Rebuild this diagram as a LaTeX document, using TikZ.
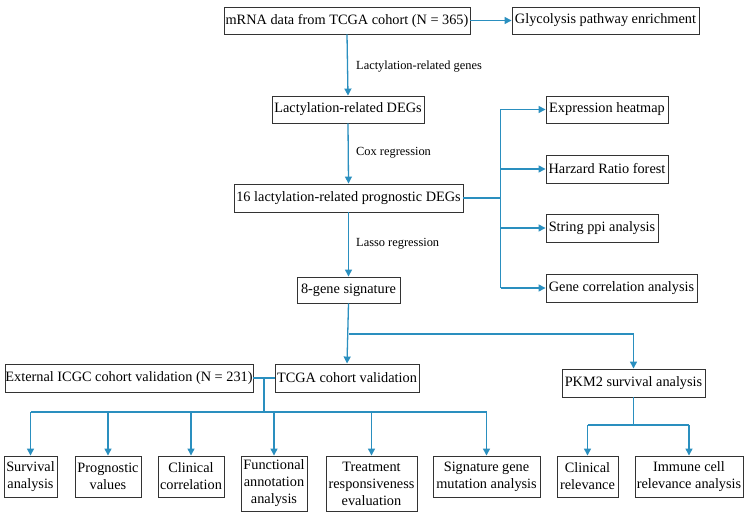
\documentclass[tikz,border=0pt]{standalone}
\usepackage{fontspec}
\setmainfont{Liberation Serif}
\usetikzlibrary{arrows.meta}
\definecolor{flow}{HTML}{2A8FBF}
\definecolor{edge}{HTML}{333333}
\tikzset{
  box/.style={draw=edge, line width=0.9pt, inner sep=0pt, align=center,
    font=\fontsize{14.3}{17}\selectfont, minimum height=27pt},
  conn/.style={draw=flow, line width=1.3pt},
  arr/.style={conn, -{Triangle[length=7pt,width=7pt]}},
  lbl/.style={font=\fontsize{12.4}{14}\selectfont, anchor=west, inner sep=0pt}
}
\begin{document}
\begin{tikzpicture}[x=1pt,y=-1pt]
\useasboundingbox (0,0) rectangle (749,521);
\node[box, minimum width=246pt] (mrna) at (347,20.5) {mRNA data from TCGA cohort (N = 365)};
\node[box, minimum width=187pt] (glyc) at (605.5,20.5) {Glycolysis pathway enrichment};
\node[box, minimum width=152pt] (ldegs) at (348,109.5) {Lactylation-related DEGs};
\node[box, minimum width=229pt, minimum height=28pt] (p16) at (348.5,198) {16 lactylation-related prognostic DEGs};
\node[box, minimum width=122pt] (heat) at (607,109.5) {Expression heatmap};
\node[box, minimum width=122pt, minimum height=28pt] (hr) at (607,169) {Harzard Ratio forest};
\node[box, minimum width=112pt, minimum height=28pt] (ppi) at (602,228) {String ppi analysis};
\node[box, minimum width=151pt, minimum height=28pt] (gca) at (621.5,288) {Gene correlation analysis};
\node[box, minimum width=103pt, minimum height=26pt] (sig) at (348.5,290) {8-gene signature};
\node[box, minimum width=248pt, minimum height=28pt] (ext) at (129,378) {External ICGC cohort validation (N = 231)};
\node[box, minimum width=144pt, minimum height=28pt] (tcga) at (347,378) {TCGA cohort validation};
\node[box, minimum width=143pt, minimum height=28pt] (pkm) at (633.5,383) {PKM2 survival analysis};
\node[box, minimum width=53pt, minimum height=41pt] (surv) at (30.5,476.5) {Survival\\analysis};
\node[box, minimum width=66pt, minimum height=41pt] (prog) at (108,476.5) {Prognostic\\values};
\node[box, minimum width=66pt, minimum height=41pt] (clin) at (191,476.5) {Clinical\\correlation};
\node[box, minimum width=66pt, minimum height=55pt] (func) at (274,483.5) {Functional\\annotation\\analysis};
\node[box, minimum width=91pt, minimum height=55pt] (treat) at (371.5,483.5) {Treatment\\responsiveness\\evaluation};
\node[box, minimum width=107pt, minimum height=41pt] (sgm) at (486.5,476.5) {Signature gene\\mutation analysis};
\node[box, minimum width=61pt, minimum height=41pt] (crel) at (587.5,476.5) {Clinical\\relevance};
\node[box, minimum width=108pt, minimum height=41pt] (imm) at (689,476.5) {Immune cell\\relevance analysis};

% main chain
\draw[arr] (mrna.east) -- (glyc.west);
\draw[arr] (mrna.south) -- (ldegs.north);
\draw[arr] (ldegs.south) -- (p16.north);
\draw[arr] (p16.south) -- (sig.north);
\node[lbl] (l1) at (356,67) {Lactylation-related genes};
\node[lbl] (l2) at (356,153) {Cox regression};
\node[lbl] (l3) at (356,244) {Lasso regression};

% right branch
\coordinate (rb) at (500.5,198);
\coordinate (rtop) at (500.5,109.5);
\coordinate (rbot) at (500.5,288);
\draw[conn] (p16.east) -- (rb);
\draw[conn] (rtop) -- (rbot);
\draw[arr] (rtop) -- (heat.west);
\draw[arr] (rb |- hr.west) -- (hr.west);
\draw[arr] (rb |- ppi.west) -- (ppi.west);
\draw[arr] (rbot) -- (gca.west);

% signature split
\coordinate (sb) at (348.5,334);
\draw[arr] (sig.south) -- (tcga.north);
\draw[arr] (sb) -| (pkm.north);

% validation branch
\draw[conn] (ext.east) -- (tcga.west);
\coordinate (vb) at (264,378);
\coordinate (vh) at (264,412);
\draw[conn] (vb) -- (vh);
\draw[conn] (surv.north |- vh) -- (sgm.north |- vh);
\foreach \n in {surv,prog,clin,func,treat,sgm}
  \draw[arr] (\n.north |- vh) -- (\n.north);

% PKM2 branch
\coordinate (ph) at (633.5,425);
\draw[conn] (pkm.south) -- (ph);
\draw[conn] (crel.north |- ph) -- (imm.north |- ph);
\draw[arr] (crel.north |- ph) -- (crel.north);
\draw[arr] (imm.north |- ph) -- (imm.north);
\end{tikzpicture}
\end{document}
